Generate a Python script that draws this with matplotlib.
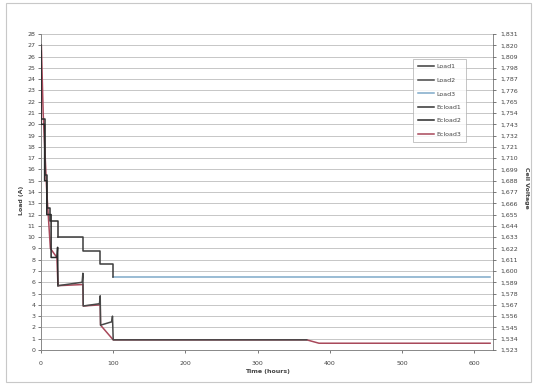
import matplotlib
matplotlib.use("Agg")
import matplotlib.pyplot as plt
from matplotlib.patches import Rectangle

# series data (time in hours, load in A)
ecload1_t = [0, 0, 5, 5, 8, 8, 12.5, 12.5, 23.5, 23.5]
ecload1_v = [27.0, 20.5, 20.5, 15.5, 15.5, 12.6, 12.6, 11.4, 11.4, 10.0]

load1_t = [23.5, 58, 58, 82, 82, 100, 100]
load1_v = [10.0, 10.0, 8.8, 8.8, 7.6, 7.6, 6.5]

load3_t = [100, 622]
load3_v = [6.5, 6.5]

ecload2_t = [0, 0, 5, 5, 8, 8, 14, 14, 22, 23, 23.5]
ecload2_v = [26.5, 20.0, 20.0, 15.0, 15.0, 12.0, 12.0, 8.2, 8.2, 9.1, 5.7]

load2_t = [23.5, 57, 58, 58.5, 81, 82, 82.5, 98, 99, 100, 368]
load2_v = [5.7, 6.0, 6.8, 3.9, 4.1, 4.8, 2.2, 2.5, 3.0, 0.9, 0.9]

ecload3_t = [0.5, 3, 8, 13, 22, 23.5, 58, 58.5, 82, 82.5, 100, 368, 385, 622]
ecload3_v = [27.0, 21.0, 14.0, 9.0, 8.2, 5.7, 5.8, 3.9, 4.0, 2.2, 0.9, 0.9, 0.6, 0.6]

x_ticks = [0, 100, 200, 300, 400, 500, 600]
y_ticks = list(range(0, 29))
right_labels = ["1,523", "1,534", "1,545", "1,556", "1,567", "1,578", "1,589",
                "1,600", "1,611", "1,622", "1,633", "1,644", "1,655", "1,666",
                "1,677", "1,688", "1,699", "1,710", "1,721", "1,732", "1,743",
                "1,754", "1,765", "1,776", "1,787", "1,798", "1,809", "1,820",
                "1,831"]

fs = 4.5
txt = "#444444"

fig = plt.figure(figsize=(5.34, 3.85), dpi=100)
fig.patches.append(Rectangle((6 / 534, 3 / 385), 525 / 534, 379 / 385,
                             transform=fig.transFigure, fill=False,
                             edgecolor="#c8c8c8", linewidth=0.8))

ax = fig.add_axes([41 / 534, 1 - 350 / 385, 452 / 534, 316 / 385])

# lines
ax.plot(ecload3_t, ecload3_v, color="#a8485a", lw=1.1, label="Ecload3", zorder=2)
ax.plot(load3_t, load3_v, color="#7fa9c9", lw=1.1, label="Load3", zorder=3)
ax.plot(ecload1_t, ecload1_v, color="#333333", lw=1.1, label="Ecload1", zorder=3)
ax.plot(ecload2_t, ecload2_v, color="#2a2a2a", lw=1.1, label="Ecload2", zorder=3)
ax.plot(load1_t, load1_v, color="#3c3c3c", lw=1.1, label="Load1", zorder=3)
ax.plot(load2_t, load2_v, color="#484848", lw=1.1, label="Load2", zorder=3)

ax.set_xlim(0, 626)
ax.set_ylim(0, 28)
ax.set_xticks(x_ticks)
ax.set_yticks(y_ticks)
ax.yaxis.grid(True, color="#bdbdbd", lw=0.6)
ax.set_axisbelow(True)
ax.tick_params(labelsize=fs, colors=txt, length=2, width=0.5, pad=2)
ax.tick_params(axis="x", pad=6)
for s in ["left", "bottom", "right"]:
    ax.spines[s].set_color("#888888")
    ax.spines[s].set_linewidth(0.7)
ax.spines["top"].set_visible(False)

ax2 = ax.twinx()
ax2.set_ylim(0, 28)
ax2.set_yticks(y_ticks)
ax2.set_yticklabels(right_labels)
ax2.tick_params(labelsize=fs, colors=txt, length=2, width=0.5, pad=3)
for s in ax2.spines.values():
    s.set_visible(False)

# legend in Load1..Ecload3 order
h, l = ax.get_legend_handles_labels()
order = ["Load1", "Load2", "Load3", "Ecload1", "Ecload2", "Ecload3"]
hh = [h[l.index(n)] for n in order]
leg = fig.legend(hh, order, loc="upper right", bbox_to_anchor=(469 / 534, 1 - 56 / 385),
                 fontsize=fs, frameon=True, fancybox=False, handlelength=2.6,
                 labelspacing=1.3, borderpad=0.8, handletextpad=0.3)
leg.get_frame().set_edgecolor("#aaaaaa")
leg.get_frame().set_linewidth(0.6)
for t in leg.get_texts():
    t.set_color(txt)

fig.text(267 / 534, 1 - 372 / 385, "Time (hours)", ha="center", va="center",
         fontsize=fs, fontweight="bold", color=txt)
fig.text(21 / 534, 1 - 200 / 385, "Load (A)", ha="center", va="center",
         rotation=90, fontsize=fs, fontweight="bold", color=txt)
fig.text(526 / 534, 1 - 188 / 385, "Cell Voltage", ha="center", va="center",
         rotation=270, fontsize=fs, fontweight="bold", color=txt)

fig.savefig("out.png", dpi=100)
